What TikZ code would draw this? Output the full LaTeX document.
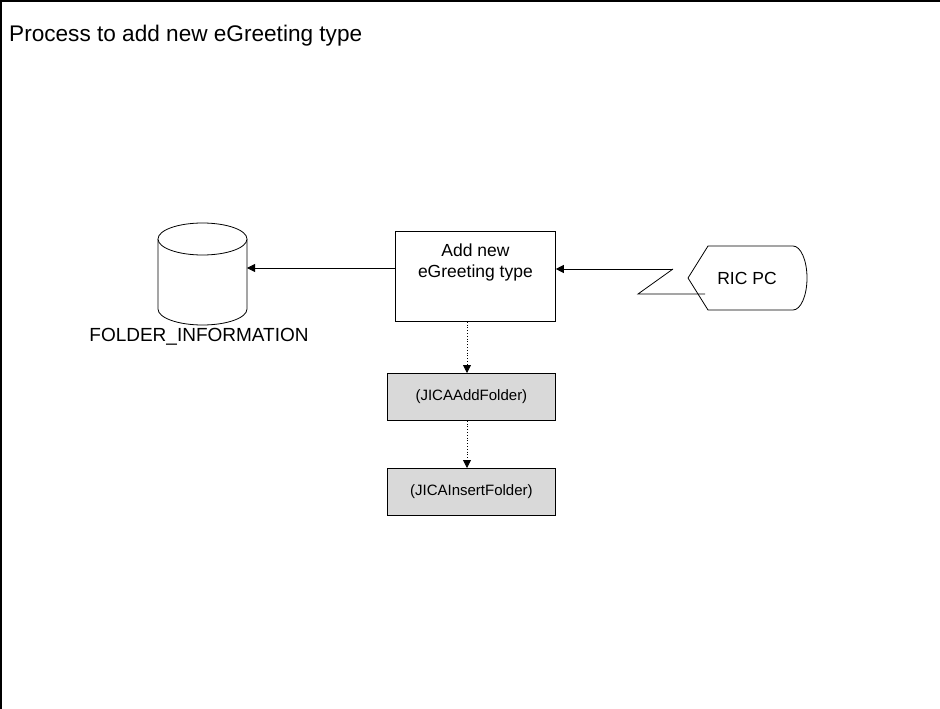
\documentclass[tikz,border=0pt]{standalone}
\usepackage{fontspec}
\setmainfont{Liberation Sans}
\usetikzlibrary{arrows.meta,shapes.geometric}
\tikzset{
  conn/.style={draw=black,line width=0.8pt,-{Triangle[length=8pt,width=8pt]}},
  dconn/.style={conn,dotted},
  procbox/.style={draw=black,line width=0.8pt,fill=white,minimum width=160pt,minimum height=90pt,inner sep=0pt},
  graybox/.style={draw=black,line width=0.8pt,fill=gray!30,minimum width=168pt,minimum height=47pt,align=center,font=\fontsize{15}{17}\selectfont,inner sep=0pt},
  lbl/.style={font=\fontsize{17.5}{21}\selectfont,inner sep=0pt},
}
\begin{document}
\begin{tikzpicture}[x=1pt,y=-1pt]
\useasboundingbox (0,0) rectangle (940,709);
\draw[line width=2pt] (1,709) -- (1,1) -- (940,1);
\node[anchor=base west,inner sep=0pt,font=\fontsize{22.6}{26}\selectfont] (title) at (9,42) {Process to add new eGreeting type};
% cylinder
\draw[line width=0.8pt,fill=white] (158,239) -- (158,309) arc[start angle=180,end angle=0,x radius=44.5,y radius=16] -- (247,239);
\draw[line width=0.8pt,fill=white] (202.5,239) ellipse[x radius=44.5,y radius=16];
\coordinate (cylr) at (247,268);
\node[font=\fontsize{19}{22}\selectfont,inner sep=0pt] (fi) at (199,337) {FOLDER\_INFORMATION};
% process box
\node[procbox,anchor=north west] (add) at (395,231) {};
\node[lbl,align=center,anchor=north] (addt) at ([yshift=-13pt]add.north) {Add new\\eGreeting type};
% RIC PC display shape
\draw[line width=0.8pt,fill=white] (688,278) -- (708,246) -- (793,246) arc[start angle=-90,end angle=90,x radius=14,y radius=32] -- (708,310) -- cycle;
\node[lbl] (ric) at (747,278) {RIC PC};
\coordinate (z1) at (705,294);
\coordinate (z2) at (638,294);
\coordinate (z3) at (673,269);
% connectors
\draw[conn] (add.west |- cylr) -- (cylr);
\draw[line width=0.8pt] (z1) -- (z2) -- (z3);
\draw[conn] (z3) -- (add.east |- z3);
% gray boxes
\node[graybox,anchor=north west] (j1) at (387,373) {(JICAAddFolder)};
\node[graybox,anchor=north west] (j2) at (387,468) {(JICAInsertFolder)};
\coordinate (ax) at (467,0);
\draw[dconn] (add.south -| ax) -- (j1.north -| ax);
\draw[dconn] (j1.south -| ax) -- (j2.north -| ax);
\end{tikzpicture}
\end{document}
